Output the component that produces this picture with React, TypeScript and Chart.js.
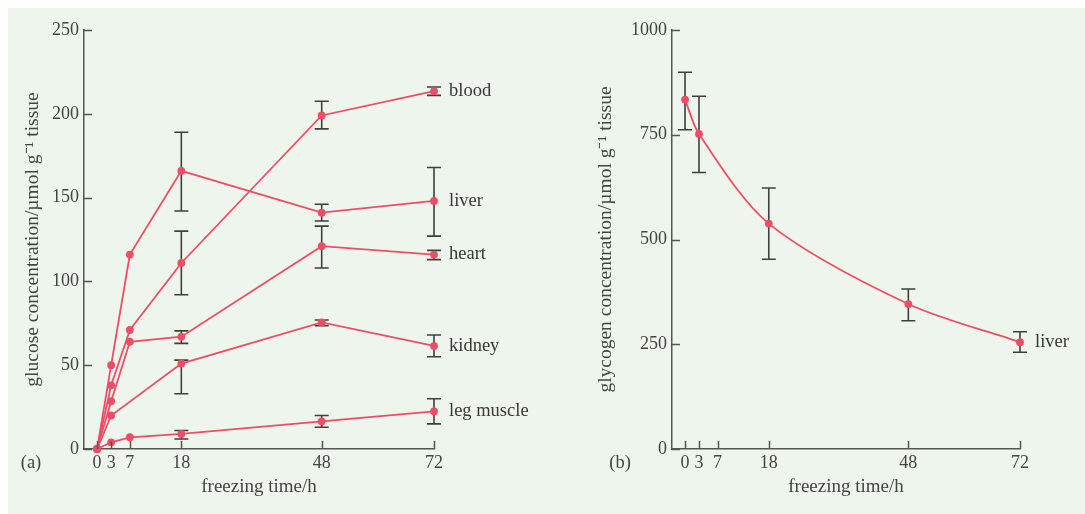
import React, { useEffect, useRef } from "react";
import { Chart, registerables } from "chart.js";

Chart.register(...registerables);

// ---------- data ----------
const HOURS = [0, 3, 7, 18, 48, 72];
const X_TICKS = [0, 3, 7, 18, 48, 72];
const GLUCOSE_TICKS = [0, 50, 100, 150, 200, 250];
const GLYCOGEN_TICKS = [0, 250, 500, 750, 1000];

const bloodVals = [0, 38, 71, 111, 199, 213.5];
const bloodLow = [null, null, null, 92, 191, 211];
const bloodHigh = [null, null, null, 130, 207.5, 216];

const liverVals = [0, 50, 116, 166, 141, 148];
const liverLow = [null, null, null, 142, 136, 127];
const liverHigh = [null, null, null, 189, 146, 168];

const heartVals = [0, 28.5, 64, 67, 121, 116];
const heartLow = [null, null, null, 63, 108, 113];
const heartHigh = [null, null, null, 70.5, 133, 118.5];

const kidneyVals = [0, 20, null, 51, 75.5, 61.5];
const kidneyLow = [null, null, null, 33, 73.5, 55];
const kidneyHigh = [null, null, null, 53, 77, 68];

const legVals = [0, 4, 7, 9, 16.5, 22.5];
const legLow = [null, null, null, 6, 13, 15];
const legHigh = [null, null, null, 11, 20, 30];

const GLY_HOURS = [0, 3, 18, 48, 72];
const glycogenVals = [834, 752, 538, 346, 255];
const glycogenLow = [762, 660, 453, 306, 231];
const glycogenHigh = [899, 842, 623, 382, 280];

const SERIES_A = [
  { name: "blood", vals: bloodVals, low: bloodLow, high: bloodHigh },
  { name: "liver", vals: liverVals, low: liverLow, high: liverHigh },
  { name: "heart", vals: heartVals, low: heartLow, high: heartHigh },
  { name: "kidney", vals: kidneyVals, low: kidneyLow, high: kidneyHigh },
  { name: "leg muscle", vals: legVals, low: legLow, high: legHigh },
];
const SERIES_B = [
  { name: "liver", vals: glycogenVals, low: glycogenLow, high: glycogenHigh },
];

// ---------- styles ----------
const RED = "#ef4d67";
const ERR = "#3f3f3f";
const AXIS = "#555555";
const TEXT = "#444444";
const BG = "#eef5ec";
const FONT = '"Liberation Serif", "Times New Roman", serif';

Chart.defaults.font.family = FONT;

function makePlugin(hours: number[], series: any[], letter: string, letterX: number) {
  return {
    id: "decor" + letter,
    beforeDatasetsDraw(chart: any) {
      const ctx = chart.ctx;
      const xs = chart.scales.x;
      const ys = chart.scales.y;
      ctx.save();
      ctx.strokeStyle = ERR;
      ctx.lineWidth = 1.6;
      series.forEach((s) => {
        hours.forEach((h, i) => {
          const lo = s.low[i];
          const hi = s.high[i];
          if (lo == null || hi == null) return;
          const px = xs.getPixelForValue(h);
          const pl = ys.getPixelForValue(lo);
          const ph = ys.getPixelForValue(hi);
          ctx.beginPath();
          ctx.moveTo(px, pl);
          ctx.lineTo(px, ph);
          ctx.moveTo(px - 7, pl);
          ctx.lineTo(px + 7, pl);
          ctx.moveTo(px - 7, ph);
          ctx.lineTo(px + 7, ph);
          ctx.stroke();
        });
      });
      ctx.restore();
    },
    afterDraw(chart: any) {
      const ctx = chart.ctx;
      const xs = chart.scales.x;
      const ys = chart.scales.y;
      const area = chart.chartArea;
      ctx.save();
      // inner tick marks
      ctx.strokeStyle = AXIS;
      ctx.lineWidth = 1.5;
      ys.ticks.forEach((t: any) => {
        const py = Math.round(ys.getPixelForValue(t.value)) + 0.5;
        ctx.beginPath();
        ctx.moveTo(area.left, py);
        ctx.lineTo(area.left + 8, py);
        ctx.stroke();
      });
      xs.ticks.forEach((t: any) => {
        const px = Math.round(xs.getPixelForValue(t.value)) + 0.5;
        ctx.beginPath();
        ctx.moveTo(px, area.bottom);
        ctx.lineTo(px, area.bottom - 8);
        ctx.stroke();
      });
      // series labels
      ctx.fillStyle = "#383838";
      ctx.font = "18.5px " + FONT;
      ctx.textAlign = "left";
      ctx.textBaseline = "middle";
      series.forEach((s) => {
        const last = s.vals.length - 1;
        const px = xs.getPixelForValue(hours[last]);
        const py = ys.getPixelForValue(s.vals[last]);
        ctx.fillText(s.name, px + 15, py);
      });
      // panel letter
      ctx.fillStyle = TEXT;
      ctx.textAlign = "center";
      ctx.fillText("(" + letter + ")", letterX, area.bottom + 14);
      ctx.restore();
    },
  };
}

function buildConfig(
  hours: number[],
  series: any[],
  ticksY: number[],
  yTitle: string,
  yMax: number,
  yWidth: number,
  yTitlePad: number,
  padRight: number,
  letter: string,
  letterX: number,
  tension: number
) {
  return {
    type: "line",
    data: {
      datasets: series.map((s) => ({
        label: s.name,
        data: hours.map((h, i) => ({ x: h, y: s.vals[i] })),
        borderColor: RED,
        backgroundColor: RED,
        borderWidth: 1.8,
        pointRadius: 3.9,
        pointBorderWidth: 0,
        pointBackgroundColor: RED,
        spanGaps: true,
        tension: tension,
        clip: false,
      })),
    },
    options: {
      responsive: false,
      animation: false,
      events: [],
      layout: { padding: { top: 22, right: padRight, bottom: 0, left: 0 } },
      plugins: {
        legend: { display: false },
        tooltip: { enabled: false },
      },
      scales: {
        x: {
          type: "linear",
          min: -2.8,
          max: 72,
          afterBuildTicks: (scale: any) => {
            scale.ticks = X_TICKS.map((v) => ({ value: v }));
          },
          afterFit: (scale: any) => {
            scale.height = 57;
          },
          grid: { display: true, drawOnChartArea: false, drawTicks: false },
          border: { display: true, color: AXIS, width: 1.5 },
          ticks: {
            autoSkip: false,
            maxRotation: 0,
            padding: 3,
            color: TEXT,
            font: { size: 18, family: FONT },
            callback: (v: any) => String(v),
          },
          title: {
            display: true,
            text: "freezing time/h",
            color: TEXT,
            font: { size: 19, family: FONT },
            padding: { top: 0, bottom: 8 },
          },
        },
        y: {
          type: "linear",
          min: 0,
          max: yMax,
          afterBuildTicks: (scale: any) => {
            scale.ticks = ticksY.map((v) => ({ value: v }));
          },
          afterFit: (scale: any) => {
            scale.width = yWidth;
          },
          grid: { display: true, drawOnChartArea: false, drawTicks: false },
          border: { display: true, color: AXIS, width: 1.5 },
          ticks: {
            padding: 5,
            color: TEXT,
            font: { size: 18, family: FONT },
            callback: (v: any) => String(v),
          },
          title: {
            display: true,
            text: yTitle,
            color: TEXT,
            font: { size: 19.5, family: FONT },
            padding: { top: yTitlePad, bottom: 0 },
          },
        },
      },
    },
    plugins: [makePlugin(hours, series, letter, letterX)],
  };
}

function ChartCanvas(props: { config: any; width: number; height: number; left: number }) {
  const ref = useRef<HTMLCanvasElement | null>(null);
  useEffect(() => {
    if (!ref.current) return;
    const chart = new Chart(ref.current, props.config);
    return () => chart.destroy();
  }, []);
  return (
    <canvas
      ref={ref}
      width={props.width}
      height={props.height}
      style={{
        position: "absolute",
        left: props.left,
        top: 0,
        width: props.width,
        height: props.height,
      }}
    />
  );
}

export default function App() {
  const cfgA = buildConfig(
    HOURS,
    SERIES_A,
    GLUCOSE_TICKS,
    "glucose concentration/\u00b5mol g\u207b\u00b9 tissue",
    250,
    76,
    13,
    106,
    "a",
    23,
    0
  );
  const cfgB = buildConfig(
    GLY_HOURS,
    SERIES_B,
    GLYCOGEN_TICKS,
    "glycogen concentration/\u00b5mol g\u207b\u00b9 tissue",
    1000,
    132,
    54,
    65,
    "b",
    80,
    0.3
  );
  return (
    <div
      style={{
        position: "fixed",
        left: 8,
        top: 8,
        width: 1077,
        height: 506,
        background: BG,
        overflow: "hidden",
      }}
    >
      <ChartCanvas config={cfgA} width={532} height={498} left={0} />
      <ChartCanvas config={cfgB} width={545} height={498} left={532} />
    </div>
  );
}
